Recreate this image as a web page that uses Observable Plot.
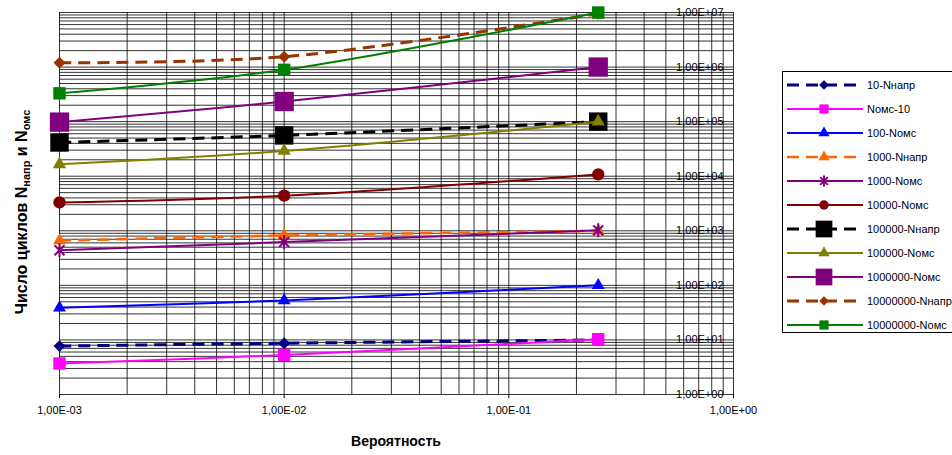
<!DOCTYPE html>
<html>
<head>
<meta charset="utf-8">
<script src="https://cdn.jsdelivr.net/npm/d3@7"></script>
<script src="https://cdn.jsdelivr.net/npm/@observablehq/plot@0.6"></script>
<style>
  html, body { margin: 0; padding: 0; background: #fff; overflow: hidden; }
  #wrap { position: relative; width: 952px; height: 455px; font-family: "Liberation Sans", Arial, sans-serif; }
  #xtitle { position: absolute; left: 396px; top: 441px; transform: translate(-50%, -50%);
            white-space: nowrap; font-weight: bold; font-size: 14px; color: #000; }
  #legend { position: absolute; left: 782px; top: 71px; width: 190px; height: 262px; border: 1px solid #000;
            box-sizing: border-box; background: #fff; }
  .row { position: absolute; left: 0; height: 24px; display: flex; align-items: center; }
  .row span { font-size: 11px; color: #000; white-space: nowrap; }
</style>
</head>
<body>
<div id="wrap">
  <div id="chart"></div>
  <div id="xtitle">Вероятность</div>
  <div id="legend"></div>
</div>
<script>
// ---- data ----
const probabilities = [0.001, 0.01, 0.25];
const seriesNames = ["10-Nнапр", "Nомс-10", "100-Nомс", "1000-Nнапр", "1000-Nомс", "10000-Nомс",
                     "100000-Nнапр", "100000-Nомс", "1000000-Nомс", "10000000-Nнапр", "10000000-Nомс"];
const v10napr       = [7.7, 8.7, 10];
const vOms10        = [3.7, 5.3, 10.3];
const v100oms       = [39, 53, 100];
const v1000napr     = [660, 820, 1000];
const v1000oms      = [440, 620, 1020];
const v10000oms     = [3300, 4400, 10800];
const v100000napr   = [41500, 56000, 100000];
const v100000oms    = [16500, 29000, 100000];
const v1000000oms   = [98000, 234000, 1000000];
const v10000000napr = [1200000, 1550000, 9500000];
const v10000000oms  = [330000, 890000, 10000000];
const seriesValues = [v10napr, vOms10, v100oms, v1000napr, v1000oms, v10000oms,
                      v100000napr, v100000oms, v1000000oms, v10000000napr, v10000000oms];
const xTickValues = [1e-3, 1e-2, 1e-1, 1];
const yTickValues = [1, 10, 100, 1e3, 1e4, 1e5, 1e6, 1e7];

// ---- styles ----
const starSymbol = {
  draw(ctx, size) {
    const r = Math.sqrt(size) * 0.6, d = r * 0.7071;
    ctx.moveTo(0, -r); ctx.lineTo(0, r);
    ctx.moveTo(-d, -d); ctx.lineTo(d, d);
    ctx.moveTo(-d, d); ctx.lineTo(d, -d);
  }
};
const styles = [
  {color: "#000080", dash: "12,7", width: 3,   sym: "diamond2", r: 5.4, lsym: d3.symbolDiamond2, lsize: 60},
  {color: "#FF00FF", dash: null,   width: 2,   sym: "square",   r: 7.0, lsym: d3.symbolSquare,   lsize: 85},
  {color: "#0000FF", dash: null,   width: 2,   sym: "triangle", r: 4.8, lsym: d3.symbolTriangle, lsize: 55},
  {color: "#FF6600", dash: "12,7", width: 2.5, sym: "triangle", r: 4.8, lsym: d3.symbolTriangle, lsize: 55},
  {color: "#800080", dash: null,   width: 2,   sym: starSymbol, r: 6.6, lsym: starSymbol,        lsize: 85, stroke: true},
  {color: "#800000", dash: null,   width: 2,   sym: "circle",   r: 6.2, lsym: d3.symbolCircle,   lsize: 70},
  {color: "#000000", dash: "12,7", width: 3,   sym: "square",   r: 10.4, lsym: d3.symbolSquare,  lsize: 280},
  {color: "#808000", dash: null,   width: 2,   sym: "triangle", r: 5.0, lsym: d3.symbolTriangle, lsize: 55},
  {color: "#800080", dash: null,   width: 2,   sym: "square",   r: 10.9, lsym: d3.symbolSquare,  lsize: 280},
  {color: "#993300", dash: "12,7", width: 3,   sym: "diamond2", r: 5.4, lsym: d3.symbolDiamond2, lsize: 55},
  {color: "#008000", dash: null,   width: 2,   sym: "square",   r: 7.0, lsym: d3.symbolSquare,   lsize: 85}
];

const fmt = d => {
  const e = Math.round(Math.log10(d));
  return "1,00E" + (e < 0 ? "-" : "+") + String(Math.abs(e)).padStart(2, "0");
};
const minor = decades => decades.slice(0, -1).flatMap(d => [1,2,3,4,5,6,7,8,9].map(k => d * k)).concat(decades.slice(-1));
const xGrid = minor(xTickValues);
const yGrid = minor(yTickValues);

const seriesMarks = seriesNames.flatMap((name, i) => {
  const s = styles[i];
  const rows = probabilities.map((p, j) => ({series: name, x: p, y: seriesValues[i][j]}));
  const dotOpts = {x: "x", y: "y", symbol: s.sym, r: s.r};
  if (s.stroke) { dotOpts.stroke = s.color; dotOpts.strokeWidth = 2; dotOpts.fill = "none"; }
  else { dotOpts.fill = s.color; dotOpts.stroke = "none"; }
  return [
    Plot.line(rows, {x: "x", y: "y", stroke: s.color, strokeWidth: s.width, curve: "catmull-rom",
                     strokeDasharray: s.dash || undefined, strokeLinecap: "butt"}),
    Plot.dot(rows, dotOpts)
  ];
});

const chart = Plot.plot({
  width: 952, height: 455,
  marginLeft: 59, marginRight: 219, marginTop: 12, marginBottom: 61,
  x: {type: "log", domain: [1e-3, 1]},
  y: {type: "log", domain: [1, 1e7]},
  style: {fontFamily: "'Liberation Sans', Arial, sans-serif", fontSize: "11px", background: "white", color: "#000", overflow: "visible"},
  marks: [
    Plot.ruleX(xGrid, {stroke: "#000", strokeWidth: 1, strokeOpacity: 0.8}),
    Plot.ruleY(yGrid, {stroke: "#000", strokeWidth: 1, strokeOpacity: 0.8}),
    Plot.axisX({ticks: xTickValues, tickFormat: fmt, tickSize: 4, tickPadding: 8, label: null, fontSize: 11}),
    Plot.axisY({anchor: "right", ticks: yTickValues, tickFormat: fmt, tickSize: 0, tickPadding: 0,
                textAnchor: "end", dx: -10, label: null, fontSize: 11}),
    ...seriesMarks
  ]
});
document.getElementById("chart").appendChild(chart);

// ---- y axis title (rotated, with subscripts) ----
const yt = d3.select(chart).append("text")
  .attr("transform", "translate(27,212) rotate(-90)")
  .attr("text-anchor", "middle")
  .attr("font-family", "'Liberation Sans', Arial, sans-serif")
  .attr("font-weight", "bold").attr("font-size", 16).attr("fill", "#000");
yt.append("tspan").text("Число циклов N");
yt.append("tspan").attr("font-size", 11).attr("dy", 3).text("напр");
yt.append("tspan").attr("dy", -3).text(" и N");
yt.append("tspan").attr("font-size", 11).attr("dy", 3).text("омс");

// ---- legend ----
const legend = d3.select("#legend");
seriesNames.forEach((name, i) => {
  const s = styles[i];
  const row = legend.append("div").attr("class", "row").style("top", (1 + i * 24) + "px");
  const svg = row.append("svg").attr("width", 84).attr("height", 24);
  svg.append("line").attr("x1", 4).attr("x2", 80).attr("y1", 12).attr("y2", 12)
     .attr("stroke", s.color).attr("stroke-width", s.width)
     .attr("stroke-dasharray", s.dash || null);
  const p = svg.append("path").attr("d", d3.symbol(s.lsym, s.lsize)()).attr("transform", "translate(41,12)");
  if (s.stroke) p.attr("fill", "none").attr("stroke", s.color).attr("stroke-width", 2);
  else p.attr("fill", s.color);
  row.append("span").text(name);
});
</script>
</body>
</html>
